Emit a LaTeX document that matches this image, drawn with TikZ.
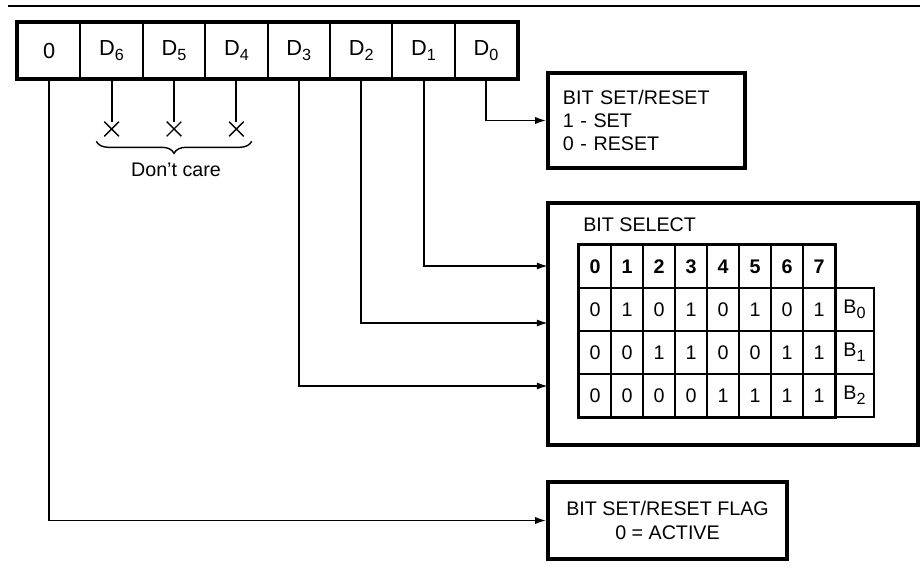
\documentclass[tikz,border=0pt]{standalone}
\usepackage{fontspec}
\setmainfont{Liberation Sans}
\usetikzlibrary{arrows.meta, shapes.misc, decorations.pathreplacing}

\newcommand{\bitsub}[1]{\raisebox{-0.5ex}{\fontsize{11.5}{13}\selectfont #1}}

\begin{document}
\begin{tikzpicture}[
    x=0.025cm, y=-0.025cm,
    font=\fontsize{14}{16.5}\selectfont,
    >={Latex[length=2.8mm,width=1.8mm]},
    reg/.style={draw, line width=1.4pt, minimum width=1.56cm,
                minimum height=1.375cm, inner sep=0pt,
                font=\fontsize{15.5}{18}\selectfont},
    box/.style={draw, line width=2.3pt, inner sep=0pt},
    cell/.style={draw, line width=1.1pt, minimum width=0.8cm,
                 minimum height=1.075cm, inner sep=0pt,
                 font=\fontsize{14}{16}\selectfont},
    xmark/.style={cross out, draw, line width=1pt, minimum size=3.3mm,
                  inner sep=0pt},
    sig/.style={->, line width=1.3pt},
    tie/.style={line width=1.3pt},
  ]
  \useasboundingbox (0,0) rectangle (920,573);

  %% ---- top rule -----------------------------------------------------
  \coordinate (rl) at (8,6);
  \coordinate (rr) at (920,6);
  \draw[line width=1.5pt] (rl) -- (rr);

  %% ---- control word register ---------------------------------------
  \foreach \name/\lab [count=\i from 0] in
      {b7/0, b6/D\bitsub{6}, b5/D\bitsub{5}, b4/D\bitsub{4},
       b3/D\bitsub{3}, b2/D\bitsub{2}, b1/D\bitsub{1}, b0/D\bitsub{0}}
    \node[reg] (\name) at ({49.2+62.4*\i},50.5) {\lab};
  \draw[line width=2.3pt] (b7.north west) rectangle (b0.south east);

  %% ---- don't care bits ---------------------------------------------
  \path (b6.south) ++(0,50) node[xmark] (x6) {};
  \path (b5.south) ++(0,50) node[xmark] (x5) {};
  \path (b4.south) ++(0,50) node[xmark] (x4) {};
  \draw[tie] (b6.south) -- (x6.north);
  \draw[tie] (b5.south) -- (x5.north);
  \draw[tie] (b4.south) -- (x4.north);
  \draw[line width=1pt, decorate, decoration={brace, mirror, amplitude=0.3cm}]
    ([shift={(-8,5)}]x6.south west) -- ([shift={(8,5)}]x4.south east);
  \node (dc) at (176,170) {Don't care};

  %% ---- bit set/reset -----------------------------------------------
  \node[box, align=left, text width=4.175cm, inner xsep=0.375cm,
        minimum height=2.375cm] (setr) at (646.5,120.5)
    {BIT SET/RESET\\ 1 - SET\\ 0 - RESET};
  \draw[sig] (b0.south) |- (setr.west);

  %% ---- bit select --------------------------------------------------
  \node[box, minimum width=9.25cm, minimum height=6.05cm] (sel) at (733,324) {};
  \node[anchor=west, inner sep=0pt] (selt) at (583,225) {BIT SELECT};

  \foreach \j in {0,...,7}
    \node[cell, font=\fontsize{14}{16}\selectfont\bfseries] (h\j)
      at ({595+32*\j},266.5) {\j};
  \foreach \bits [count=\r from 0] in
      {{0,1,0,1,0,1,0,1},{0,0,1,1,0,0,1,1},{0,0,0,0,1,1,1,1}} {
    \foreach \v [count=\j from 0] in \bits
      \node[cell] (v\r\j) at ({595+32*\j},{309.5+43*\r}) {\v};
    \node[cell, minimum width=0.975cm] (bs\r) at (854.5,{309.5+43*\r})
      {B\bitsub{\r}};
  }
  \draw[line width=2pt] (h0.north west) rectangle (v27.south east);

  \coordinate (in1) at (548,266);
  \coordinate (in2) at (548,323);
  \coordinate (in3) at (548,386);
  \draw[sig] (b1.south) |- (in1);
  \draw[sig] (b2.south) |- (in2);
  \draw[sig] (b3.south) |- (in3);

  %% ---- set/reset flag ----------------------------------------------
  \node[box, align=center, minimum width=5.975cm, minimum height=1.925cm]
    (flag) at (667.5,520.5) {BIT SET/RESET FLAG\\ 0 = ACTIVE};
  \draw[sig] (b7.south) |- (flag.west);

\end{tikzpicture}
\end{document}
